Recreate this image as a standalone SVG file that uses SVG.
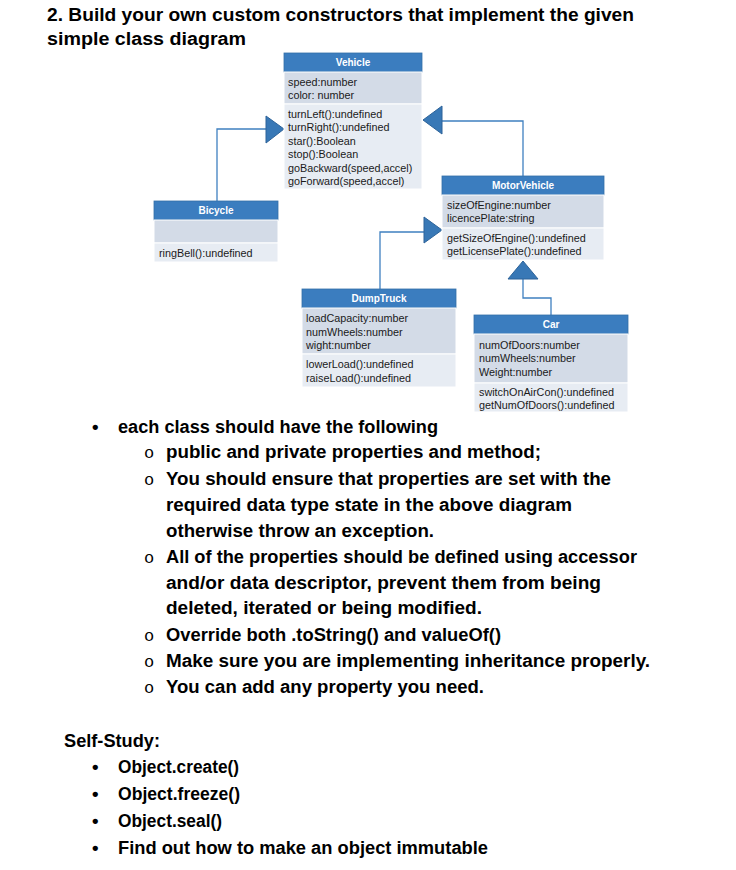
<svg xmlns="http://www.w3.org/2000/svg" width="736" height="870" viewBox="0 0 736 870">
<style>
.hd{fill:#3b7dbf;stroke:#346fa9;stroke-width:0.8}
.at{fill:#d3dbe7;stroke:#ffffff;stroke-width:1}
.me{fill:#e7ecf3;stroke:#ffffff;stroke-width:1}
.ht{font-family:"Liberation Sans",Arial,sans-serif;font-size:10px;font-weight:bold;fill:#ffffff;text-anchor:middle}
.mt{font-family:"Liberation Sans",Arial,sans-serif;font-size:10.8px;fill:#1a1a1a}
.ln{fill:none;stroke:#3f80c0;stroke-width:1.3}
.tri{fill:#3878b6;stroke:#2d6399;stroke-width:1}
.bt{font-family:"Liberation Sans",Arial,sans-serif;font-size:18.7px;font-weight:bold;fill:#000000}
.mk{font-family:"Liberation Mono","Courier New",monospace;font-size:17px;fill:#000000}
</style>
<rect width="736" height="870" fill="#ffffff"/>
<text class="bt" x="47" y="21" textLength="587" lengthAdjust="spacingAndGlyphs">2. Build your own custom constructors that implement the given</text>
<text class="bt" x="47" y="45" textLength="199" lengthAdjust="spacingAndGlyphs">simple class diagram</text>

<g id="connectors">
<polyline class="ln" points="217,201 217,129 266,129"/>
<polygon class="tri" points="266,116 284,129 266,143"/>
<polyline class="ln" points="523,176 523,121 442,121"/>
<polygon class="tri" points="442,106 423,120 442,134"/>
<polyline class="ln" points="380,289 380,232 424,232"/>
<polygon class="tri" points="424,217 442,230 424,243"/>
<polyline class="ln" points="551,315 551,298 523,298 523,279"/>
<polygon class="tri" points="508,279 523,261 538,279"/>
</g>

<g id="vehicle">
<rect class="hd" x="284" y="53" width="138" height="19"/>
<rect class="at" x="284" y="72" width="138" height="32"/>
<rect class="me" x="284" y="104" width="138" height="85"/>
<text class="ht" x="353" y="66">Vehicle</text>
<text class="mt" x="288" y="86">speed:number</text>
<text class="mt" x="288" y="99">color: number</text>
<text class="mt" x="288" y="118">turnLeft():undefined</text>
<text class="mt" x="288" y="131">turnRight():undefined</text>
<text class="mt" x="288" y="145">star():Boolean</text>
<text class="mt" x="288" y="158">stop():Boolean</text>
<text class="mt" x="288" y="172">goBackward(speed,accel)</text>
<text class="mt" x="288" y="185">goForward(speed,accel)</text>
</g>

<g id="bicycle">
<rect class="hd" x="154" y="201" width="124" height="19"/>
<rect class="at" x="154" y="220" width="124" height="23"/>
<rect class="me" x="154" y="243" width="124" height="19"/>
<text class="ht" x="216" y="214">Bicycle</text>
<text class="mt" x="159" y="257">ringBell():undefined</text>
</g>

<g id="motorvehicle">
<rect class="hd" x="442" y="176" width="162" height="19"/>
<rect class="at" x="442" y="195" width="162" height="33"/>
<rect class="me" x="442" y="228" width="162" height="32"/>
<text class="ht" x="523" y="189">MotorVehicle</text>
<text class="mt" x="447" y="209">sizeOfEngine:number</text>
<text class="mt" x="447" y="222">licencePlate:string</text>
<text class="mt" x="447" y="242">getSizeOfEngine():undefined</text>
<text class="mt" x="447" y="255">getLicensePlate():undefined</text>
</g>

<g id="dumptruck">
<rect class="hd" x="302" y="289" width="154" height="19"/>
<rect class="at" x="302" y="308" width="154" height="46"/>
<rect class="me" x="302" y="354" width="154" height="33"/>
<text class="ht" x="379" y="302">DumpTruck</text>
<text class="mt" x="306" y="322">loadCapacity:number</text>
<text class="mt" x="306" y="336">numWheels:number</text>
<text class="mt" x="306" y="349">wight:number</text>
<text class="mt" x="306" y="368">lowerLoad():undefined</text>
<text class="mt" x="306" y="382">raiseLoad():undefined</text>
</g>

<g id="car">
<rect class="hd" x="474" y="315" width="154" height="19"/>
<rect class="at" x="474" y="334" width="154" height="49"/>
<rect class="me" x="474" y="383" width="154" height="29"/>
<text class="ht" x="551" y="328">Car</text>
<text class="mt" x="479" y="349">numOfDoors:number</text>
<text class="mt" x="479" y="362">numWheels:number</text>
<text class="mt" x="479" y="376">Weight:number</text>
<text class="mt" x="479" y="396">switchOnAirCon():undefined</text>
<text class="mt" x="479" y="409">getNumOfDoors():undefined</text>
</g>

<g id="body">
<text class="bt" x="92" y="433">•</text>
<text class="bt" x="118" y="433" textLength="320" lengthAdjust="spacingAndGlyphs">each class should have the following</text>
<text class="mk" x="144" y="458">o</text>
<text class="bt" x="166" y="458" textLength="375" lengthAdjust="spacingAndGlyphs">public and private properties and method;</text>
<text class="mk" x="144" y="485">o</text>
<text class="bt" x="166" y="485" textLength="445" lengthAdjust="spacingAndGlyphs">You should ensure that properties are set with the</text>
<text class="bt" x="166" y="511" textLength="406" lengthAdjust="spacingAndGlyphs">required data type state in the above diagram</text>
<text class="bt" x="166" y="537" textLength="268" lengthAdjust="spacingAndGlyphs">otherwise throw an exception.</text>
<text class="mk" x="144" y="563">o</text>
<text class="bt" x="166" y="563" textLength="471" lengthAdjust="spacingAndGlyphs">All of the properties should be defined using accessor</text>
<text class="bt" x="166" y="589" textLength="435" lengthAdjust="spacingAndGlyphs">and/or data descriptor, prevent them from being</text>
<text class="bt" x="166" y="614" textLength="316" lengthAdjust="spacingAndGlyphs">deleted, iterated or being modified.</text>
<text class="mk" x="144" y="641">o</text>
<text class="bt" x="166" y="641" textLength="335" lengthAdjust="spacingAndGlyphs">Override both .toString() and valueOf()</text>
<text class="mk" x="144" y="667">o</text>
<text class="bt" x="166" y="667" textLength="484" lengthAdjust="spacingAndGlyphs">Make sure you are implementing inheritance properly.</text>
<text class="mk" x="144" y="693">o</text>
<text class="bt" x="166" y="693" textLength="318" lengthAdjust="spacingAndGlyphs">You can add any property you need.</text>

<text class="bt" x="64" y="747" textLength="96" lengthAdjust="spacingAndGlyphs">Self-Study:</text>
<text class="bt" x="92" y="773">•</text>
<text class="bt" x="118" y="773" textLength="121" lengthAdjust="spacingAndGlyphs">Object.create()</text>
<text class="bt" x="92" y="800">•</text>
<text class="bt" x="118" y="800" textLength="122" lengthAdjust="spacingAndGlyphs">Object.freeze()</text>
<text class="bt" x="92" y="827">•</text>
<text class="bt" x="118" y="827" textLength="104" lengthAdjust="spacingAndGlyphs">Object.seal()</text>
<text class="bt" x="92" y="854">•</text>
<text class="bt" x="118" y="854" textLength="370" lengthAdjust="spacingAndGlyphs">Find out how to make an object immutable</text>
</g>
</svg>
